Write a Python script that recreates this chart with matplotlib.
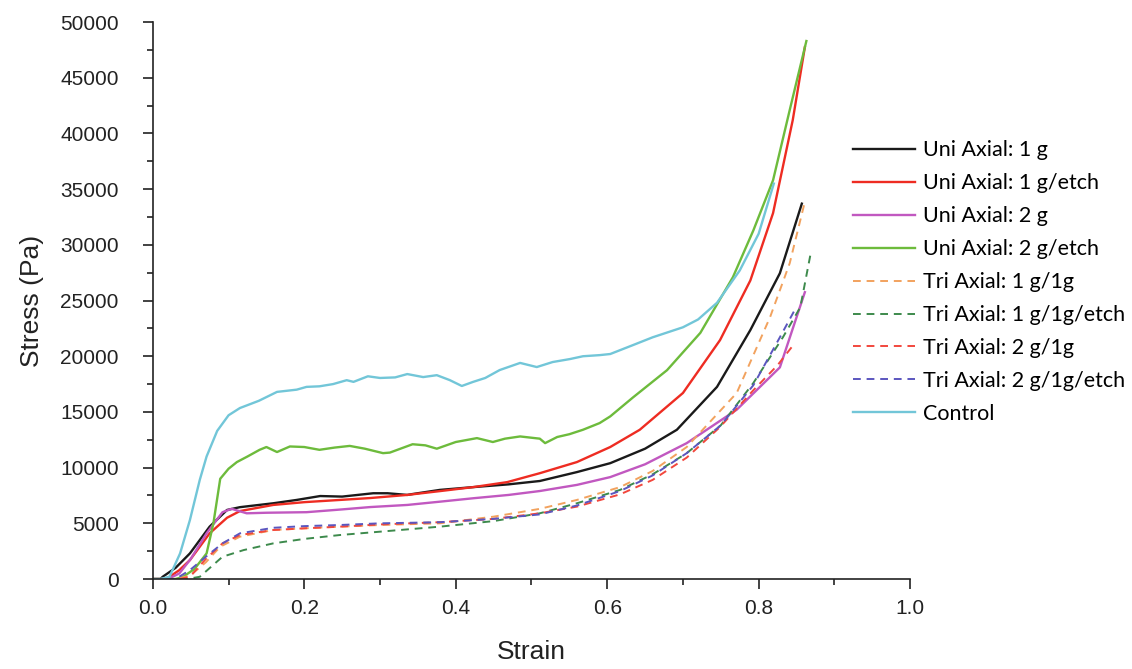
import matplotlib.pyplot as plt
from matplotlib.ticker import MultipleLocator

# strain / stress
ctrl_x = [0.0, 0.01, 0.022, 0.036, 0.049, 0.062, 0.071, 0.085, 0.1, 0.115, 0.14, 0.164, 0.19, 0.203, 0.22, 0.238,
          0.256, 0.265, 0.284, 0.30, 0.32, 0.336, 0.357, 0.375, 0.392, 0.408, 0.423, 0.439, 0.458, 0.485, 0.507,
          0.528, 0.551, 0.568, 0.59, 0.604, 0.634, 0.66, 0.70, 0.72, 0.745, 0.775, 0.80, 0.82]
ctrl_y = [0, 0, 200, 2300, 5300, 8900, 11000, 13300, 14700, 15350, 16000, 16800, 17000, 17250, 17300, 17500,
          17850, 17700, 18200, 18050, 18100, 18400, 18130, 18300, 17860, 17330, 17700, 18050, 18760, 19400, 19030,
          19480, 19750, 20000, 20100, 20200, 21000, 21700, 22600, 23300, 24800, 27700, 31000, 35500]

u2e_x = [0.0, 0.03, 0.04, 0.055, 0.071, 0.08, 0.089, 0.1, 0.111, 0.125, 0.141, 0.15, 0.164, 0.181, 0.2, 0.22,
         0.24, 0.26, 0.28, 0.304, 0.313, 0.343, 0.36, 0.375, 0.4, 0.428, 0.449, 0.465, 0.485, 0.511, 0.518, 0.534,
         0.55, 0.568, 0.59, 0.604, 0.634, 0.679, 0.723, 0.766, 0.793, 0.819, 0.841, 0.863]
u2e_y = [0, 0, 200, 900, 2300, 5000, 9000, 9900, 10500, 11000, 11600, 11850, 11400, 11900, 11850, 11600,
         11800, 11950, 11700, 11300, 11350, 12100, 12000, 11700, 12300, 12650, 12300, 12600, 12800, 12600, 12200, 12750,
         13000, 13400, 14000, 14600, 16300, 18750, 22100, 27100, 31300, 35800, 42100, 48300]

u1e_x = [0.0, 0.015, 0.022, 0.035, 0.049, 0.062, 0.075, 0.098, 0.115, 0.159, 0.2, 0.247, 0.287, 0.336, 0.38,
         0.423, 0.468, 0.511, 0.56, 0.604, 0.643, 0.70, 0.749, 0.789, 0.819, 0.845, 0.861]
u1e_y = [0, 0, 200, 800, 1700, 2900, 4100, 5500, 6100, 6650, 6900, 7100, 7270, 7550, 7900,
         8250, 8700, 9500, 10500, 11850, 13400, 16700, 21450, 26800, 32850, 41200, 47750]

u1_x = [0.0, 0.01, 0.013, 0.03, 0.049, 0.062, 0.075, 0.098, 0.115, 0.159, 0.19, 0.221, 0.25, 0.291, 0.31, 0.336,
        0.343, 0.379, 0.423, 0.47, 0.511, 0.56, 0.604, 0.65, 0.692, 0.745, 0.789, 0.828, 0.857]
u1_y = [0, 0, 200, 1000, 2300, 3500, 4700, 6200, 6450, 6800, 7100, 7450, 7400, 7700, 7700, 7550,
        7630, 8000, 8250, 8500, 8800, 9600, 10400, 11700, 13400, 17250, 22350, 27450, 33700]

u2_x = [0.0, 0.02, 0.035, 0.05, 0.071, 0.092, 0.104, 0.124, 0.15, 0.203, 0.25, 0.287, 0.336, 0.38, 0.423, 0.47,
        0.511, 0.56, 0.604, 0.65, 0.705, 0.771, 0.828, 0.861]
u2_y = [0, 0, 500, 1800, 4100, 6000, 6300, 5900, 5950, 6000, 6250, 6460, 6650, 6950, 7250, 7550,
        7900, 8450, 9150, 10300, 12200, 15200, 19000, 25750]

t11_x = [0.0, 0.03, 0.049, 0.07, 0.089, 0.115, 0.159, 0.2, 0.247, 0.3, 0.379, 0.45, 0.511, 0.56, 0.617, 0.66,
         0.705, 0.771, 0.815, 0.841, 0.86]
t11_y = [0, 0, 300, 1500, 2900, 3800, 4400, 4550, 4700, 4850, 5000, 5600, 6300, 7100, 8250, 9700,
         11850, 16700, 23500, 28350, 33600]

t11e_x = [0.0, 0.045, 0.062, 0.092, 0.12, 0.159, 0.2, 0.247, 0.3, 0.379, 0.45, 0.511, 0.56, 0.617, 0.66, 0.705,
          0.75, 0.793, 0.832, 0.855, 0.869]
t11e_y = [0, 0, 200, 2000, 2600, 3200, 3600, 3950, 4250, 4700, 5200, 5900, 6800, 8000, 9400, 11300,
          13800, 17600, 21700, 24400, 29350]

t21_x = [0.0, 0.035, 0.049, 0.07, 0.092, 0.115, 0.159, 0.2, 0.247, 0.3, 0.379, 0.45, 0.511, 0.56, 0.617, 0.66,
         0.705, 0.749, 0.793, 0.825, 0.848]
t21_y = [0, 0, 200, 1800, 3200, 3950, 4400, 4550, 4700, 4900, 5100, 5400, 5900, 6500, 7600, 8900,
         10900, 13650, 16950, 19200, 21200]

t21e_x = [0.0, 0.03, 0.049, 0.07, 0.092, 0.115, 0.159, 0.2, 0.247, 0.3, 0.379, 0.45, 0.511, 0.56, 0.617, 0.66,
          0.705, 0.75, 0.793, 0.828, 0.848]
t21e_y = [0, 0, 800, 2000, 3200, 4100, 4600, 4750, 4850, 5000, 5100, 5400, 5800, 6600, 7900, 9300,
          11300, 13800, 17400, 21700, 24200]

series = [
    ("Uni Axial: 1 g", u1_x, u1_y, "#1a1a1a", "-"),
    ("Uni Axial: 1 g/etch", u1e_x, u1e_y, "#ee2c22", "-"),
    ("Uni Axial: 2 g", u2_x, u2_y, "#c158c0", "-"),
    ("Uni Axial: 2 g/etch", u2e_x, u2e_y, "#6dbb3c", "-"),
    ("Tri Axial: 1 g/1g", t11_x, t11_y, "#f2a25e", (0, (4, 3))),
    ("Tri Axial: 1 g/1g/etch", t11e_x, t11e_y, "#3d8a4c", (0, (4, 3))),
    ("Tri Axial: 2 g/1g", t21_x, t21_y, "#f2473d", (0, (4, 3))),
    ("Tri Axial: 2 g/1g/etch", t21e_x, t21e_y, "#5b56bf", (0, (4, 3))),
    ("Control", ctrl_x, ctrl_y, "#72c6d8", "-"),
]

plt.rcParams['font.family'] = ['Liberation Sans', 'DejaVu Sans']

fig = plt.figure(figsize=(11.32, 6.69), dpi=100)
ax = fig.add_axes([0.135, 0.1345, 0.669, 0.8325])

for label, xs, ys, col, ls in series:
    lw = 1.7 if ls == "-" else 1.4
    ax.plot(xs, ys, color=col, linestyle=ls, linewidth=lw, label=label)

ax.set_xlim(0, 1.0)
ax.set_ylim(0, 50000)
ax.xaxis.set_major_locator(MultipleLocator(0.2))
ax.xaxis.set_minor_locator(MultipleLocator(0.1))
ax.yaxis.set_major_locator(MultipleLocator(5000))
ax.yaxis.set_minor_locator(MultipleLocator(2500))
ax.xaxis.set_major_formatter(plt.FuncFormatter(lambda v, p: f"{v:.1f}"))
ax.tick_params(which='major', direction='out', length=7.5, width=1.2, labelsize=15, colors='#222222')
ax.tick_params(which='minor', direction='out', length=4, width=1.2, colors='#222222')
ax.tick_params(axis='x', pad=7)
ax.tick_params(axis='y', pad=17)
for s in ['top', 'right']:
    ax.spines[s].set_visible(False)
for s in ['left', 'bottom']:
    ax.spines[s].set_linewidth(1.2)
    ax.spines[s].set_color('#222222')

ax.set_xlabel("Strain", fontsize=19, labelpad=16, color='#222222')
ax.set_ylabel("Stress (Pa)", fontsize=19, labelpad=12, color='#222222')

leg = fig.legend(loc='upper left', bbox_to_anchor=(0.7535, 0.790), frameon=False,
                 prop={'family': 'Lato', 'size': 15.5}, handlelength=2.9, labelspacing=0.6,
                 handletextpad=0.37, borderpad=0, borderaxespad=0)

fig.savefig("out.png", dpi=100, facecolor='white')
